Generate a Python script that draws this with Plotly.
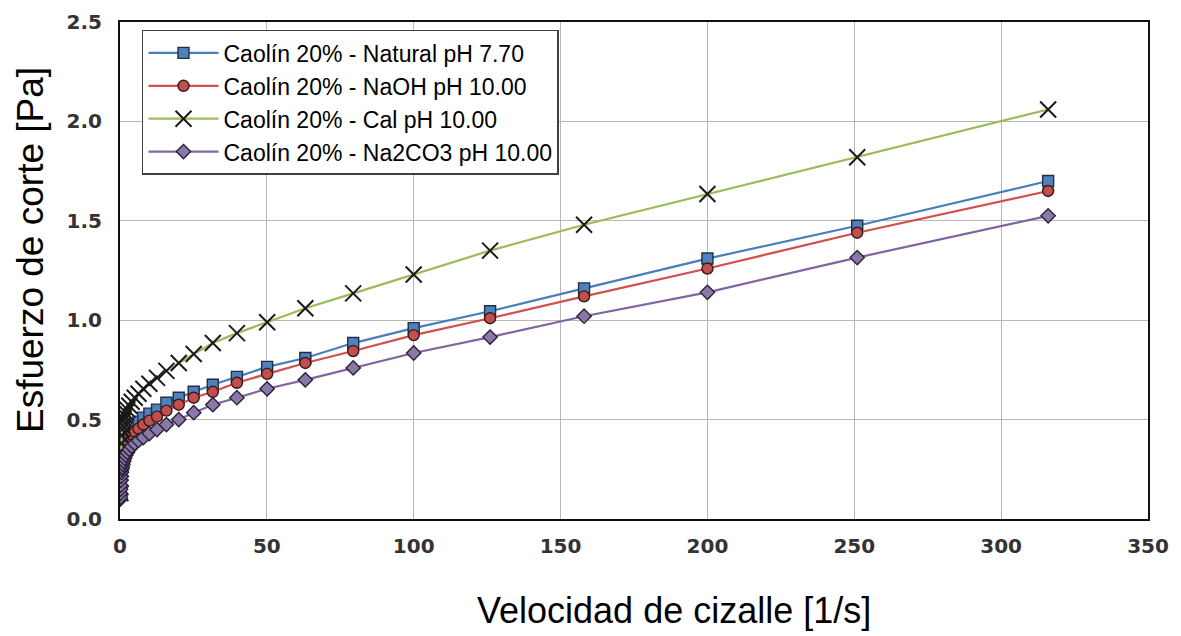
import plotly.graph_objects as go

shear_rate = [0.1, 0.126, 0.158, 0.2, 0.251, 0.316, 0.398, 0.501, 0.631, 0.794,
              1.0, 1.26, 1.58, 2.0, 2.51, 3.16, 3.98, 5.01, 6.31, 7.94,
              10.0, 12.6, 15.8, 20.0, 25.1, 31.6, 39.8, 50.1, 63.1, 79.4,
              100.0, 126.0, 158.0, 200.0, 251.0, 316.0]

natural = [0.12, 0.13, 0.15, 0.17, 0.20, 0.23, 0.26, 0.29, 0.32, 0.34,
           0.36, 0.38, 0.395, 0.41, 0.425, 0.44, 0.455, 0.47, 0.49, 0.51,
           0.53, 0.55, 0.585, 0.61, 0.64, 0.675, 0.715, 0.765, 0.81, 0.885,
           0.96, 1.045, 1.16, 1.31, 1.475, 1.70]

naoh = [0.11, 0.12, 0.14, 0.16, 0.19, 0.22, 0.245, 0.27, 0.295, 0.315,
        0.335, 0.35, 0.365, 0.38, 0.395, 0.41, 0.425, 0.44, 0.455, 0.475,
        0.495, 0.515, 0.545, 0.575, 0.61, 0.64, 0.685, 0.73, 0.785, 0.845,
        0.925, 1.01, 1.12, 1.26, 1.44, 1.65]

cal = [0.13, 0.16, 0.20, 0.25, 0.30, 0.34, 0.38, 0.42, 0.45, 0.47,
       0.49, 0.505, 0.52, 0.535, 0.55, 0.57, 0.59, 0.61, 0.63, 0.655,
       0.68, 0.71, 0.745, 0.785, 0.83, 0.885, 0.935, 0.99, 1.06, 1.135,
       1.23, 1.35, 1.48, 1.635, 1.82, 2.06]

na2co3 = [0.10, 0.11, 0.13, 0.15, 0.17, 0.195, 0.215, 0.235, 0.25, 0.26,
          0.275, 0.29, 0.305, 0.32, 0.335, 0.35, 0.365, 0.38, 0.395, 0.41,
          0.43, 0.45, 0.475, 0.50, 0.535, 0.575, 0.61, 0.655, 0.70, 0.76,
          0.835, 0.915, 1.02, 1.14, 1.315, 1.525]

names = ["Caolín 20% - Natural pH 7.70",
         "Caolín 20% - NaOH pH 10.00",
         "Caolín 20% - Cal pH 10.00",
         "Caolín 20% - Na2CO3 pH 10.00"]

x_title = "Velocidad de cizalle [1/s]"
y_title = "Esfuerzo de corte [Pa]"

fig = go.Figure()
fig.add_trace(go.Scatter(
    x=shear_rate, y=natural, name=names[0], mode="lines+markers",
    line=dict(color="#4a7ebb", width=2.2),
    marker=dict(symbol="square", size=11, color="#4f81bd",
                line=dict(color="#1f2f45", width=1.4))))
fig.add_trace(go.Scatter(
    x=shear_rate, y=naoh, name=names[1], mode="lines+markers",
    line=dict(color="#d0504d", width=2.2),
    marker=dict(symbol="circle", size=11, color="#c0504d",
                line=dict(color="#3a1818", width=1.4))))
fig.add_trace(go.Scatter(
    x=shear_rate, y=cal, name=names[2], mode="lines+markers",
    line=dict(color="#9bbb59", width=2.2),
    marker=dict(symbol="x-thin-open", size=16, color="#1a1a1a",
                line=dict(color="#1a1a1a", width=2))))
fig.add_trace(go.Scatter(
    x=shear_rate, y=na2co3, name=names[3], mode="lines+markers",
    line=dict(color="#8064a2", width=2.2),
    marker=dict(symbol="diamond", size=11, color="#8a78a8",
                line=dict(color="#2a2238", width=1.4))))

tick_font = dict(family="DejaVu Sans, Verdana, sans-serif", size=20,
                 color="#333333", weight="bold")

# page has an 8px body margin; figure sized to fit the 1181x636 window
fig.update_layout(
    width=1173, height=628,
    margin=dict(l=112, r=33, t=14, b=117, autoexpand=False),
    paper_bgcolor="white", plot_bgcolor="white",
    font=dict(family="Liberation Sans, Arial, sans-serif", color="#000000"),
    showlegend=True,
    legend=dict(
        x=0.0214, y=0.984, xanchor="left", yanchor="top",
        bgcolor="white", bordercolor="#404040", borderwidth=1.5,
        font=dict(size=23, family="Liberation Sans, Arial, sans-serif", color="#000"),
        itemwidth=70, tracegroupgap=0),
    xaxis=dict(
        range=[0, 350], tick0=0, dtick=50, showgrid=True,
        gridcolor="#b8b8b8", gridwidth=1,
        showline=True, linecolor="#111111", linewidth=2, mirror=True,
        ticks="", zeroline=False, automargin=False, ticklabelstandoff=8,
        tickfont=tick_font),
    yaxis=dict(
        range=[0, 2.5], tick0=0, dtick=0.5, tickformat=".1f", showgrid=True,
        gridcolor="#b8b8b8", gridwidth=1,
        showline=True, linecolor="#111111", linewidth=2, mirror=True,
        ticks="", zeroline=False, automargin=False, ticklabelstandoff=12,
        tickfont=tick_font),
    annotations=[
        dict(text=x_title, xref="paper", yref="paper",
             x=(674 - 120) / 1028, y=-(611 - 519) / 497,
             xanchor="center", yanchor="middle", showarrow=False,
             font=dict(family="Liberation Sans, Arial", size=36, color="#000")),
        dict(text=y_title, xref="paper", yref="paper",
             x=-(120 - 30) / 1028, y=(519 - 250) / 497,
             xanchor="center", yanchor="middle", showarrow=False, textangle=-90,
             font=dict(family="Liberation Sans, Arial", size=37, color="#000")),
    ],
)

fig.write_html("out.html")
